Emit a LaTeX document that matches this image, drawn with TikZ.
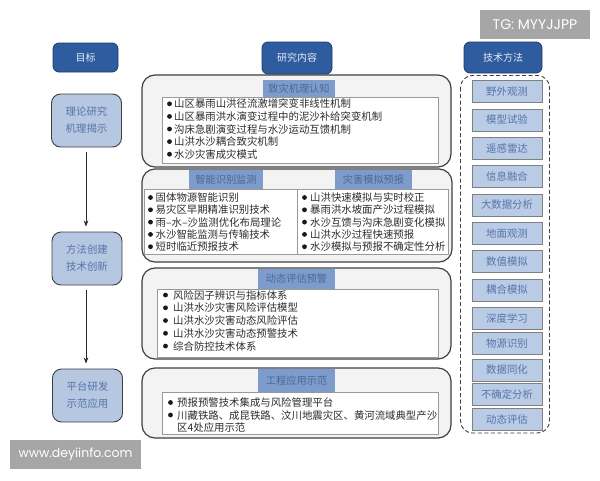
\documentclass[tikz,border=0pt]{standalone}
\usepackage{fontspec}
\setmainfont{Noto Sans CJK SC}
\newfontfamily\wmfont{Poppins}
\usetikzlibrary{arrows.meta}
\definecolor{hdr}{HTML}{2F5C9E}
\definecolor{hdrline}{HTML}{1E3C6E}
\definecolor{hdrtext}{HTML}{E4EBF6}
\definecolor{lite}{HTML}{B5C7E1}
\definecolor{litetext}{HTML}{5675A8}
\definecolor{titlebar}{HTML}{7D9CCB}
\definecolor{titletext}{HTML}{4C6796}
\definecolor{itemfill}{HTML}{B9CBE5}
\definecolor{bigfill}{HTML}{F3F3F3}
\definecolor{bodytext}{HTML}{2C2C2C}
\definecolor{wmgray}{HTML}{A6A6A6}
\definecolor{edgegray}{HTML}{404040}
\tikzset{
  hdrbox/.style={draw=hdrline, line width=0.8pt, fill=hdr, rounded corners=6pt, text=hdrtext,
    font=\fontsize{10}{12}\selectfont, inner sep=0pt},
  goalbox/.style={draw=edgegray, line width=0.9pt, fill=lite, rounded corners=9pt, text=litetext,
    font=\fontsize{10.4}{17}\selectfont, align=center, inner sep=0pt, minimum width=70pt, minimum height=53pt},
  bigbox/.style={draw=edgegray, line width=1.2pt, fill=bigfill, rounded corners=13pt, inner sep=0pt},
  whitebox/.style={draw=gray!80, line width=0.6pt, fill=white, inner sep=0pt},
  titlebox/.style={fill=titlebar, text=titletext, font=\fontsize{10.2}{12}\selectfont, inner sep=0pt},
  itembox/.style={draw=gray, line width=0.8pt, fill=itemfill, text=litetext,
    font=\fontsize{10.4}{12}\selectfont, inner sep=0pt, minimum width=70pt, minimum height=22pt},
  listtext/.style={text=bodytext, font=\fontsize{10.4}{12}\selectfont, inner sep=0pt},
  arr/.style={draw=black!85, line width=0.8pt, -{Stealth[length=6pt,width=4.5pt]}, shorten <=5pt, shorten >=5pt},
  wmbox/.style={fill=wmgray, text=white, inner sep=0pt, font=\wmfont\fontsize{12}{14}\selectfont}
}
\begin{document}
\begin{tikzpicture}[x=1pt,y=-1pt]
\useasboundingbox (0,0) rectangle (600,480);
\fill[white] (0,0) rectangle (600,480);

% headers
\node[hdrbox, minimum width=65pt, minimum height=29pt] (goal) at (85.5,57.5) {目标};
\node[hdrbox, minimum width=70pt, minimum height=32pt] (content) at (297,58) {研究内容};
\node[hdrbox, minimum width=78pt, minimum height=31pt] (method) at (503,57.5) {技术方法};

% left goal boxes
\node[goalbox] (g1) at (86.5,120.5) {理论研究\\机理揭示};
\node[goalbox] (g2) at (87,258.5) {方法创建\\技术创新};
\node[goalbox] (g3) at (87.5,395.5) {平台研发\\示范应用};
\draw[arr] (g1.south -| 86,0) -- (g2.north -| 86,0);
\draw[arr] (g2.south -| 86,0) -- (g3.north -| 86,0);

% big boxes
\node[bigbox, minimum width=309pt, minimum height=92pt] (b1) at (296.5,121) {};
\node[bigbox, minimum width=310pt, minimum height=93pt] (b2) at (297,215.5) {};
\node[bigbox, minimum width=309pt, minimum height=91pt] (b3) at (296.5,313.5) {};
\node[bigbox, minimum width=309pt, minimum height=70pt] (b4) at (296.5,403) {};

% white inner boxes
\node[whitebox, minimum width=276pt, minimum height=66pt] (w1) at (300,130) {};
\node[whitebox, minimum width=153pt, minimum height=65pt] (w2a) at (220.5,221.5) {};
\node[whitebox, minimum width=151pt, minimum height=65pt] (w2b) at (372.5,221.5) {};
\node[whitebox, minimum width=281pt, minimum height=68pt] (w3) at (297.5,323) {};
\node[whitebox, minimum width=276pt, minimum height=42pt] (w4) at (300,413) {};

% title bars
\node[titlebox, minimum width=72pt, minimum height=17pt] (t1) at (299,88.5) {致灾机理认知};
\node[titlebox, minimum width=74pt, minimum height=19pt] (t2a) at (226,179.5) {智能识别监测};
\node[titlebox, minimum width=77pt, minimum height=19pt] (t2b) at (373.5,179.5) {灾害模拟预报};
\node[titlebox, minimum width=77pt, minimum height=20pt] (t3) at (296.5,279) {动态评估预警};
\node[titlebox, minimum width=77pt, minimum height=23pt] (t4) at (296.5,380.5) {工程应用示范};

% list 1
\foreach \t [count=\i] in {山区暴雨山洪径流激增突变非线性机制,山区暴雨洪水演变过程中的泥沙补给突变机制,沟床急剧演变过程与水沙运动互馈机制,山洪水沙耦合致灾机制,水沙灾害成灾模式}{
  \fill[black!90] (169.5,91.2+12.6*\i) circle (2.4pt);
  \node[listtext, anchor=base west] (l1-\i) at (174,95.2+12.6*\i) {\t};
}
% list 2a
\foreach \t [count=\i] in {固体物源智能识别,易灾区早期精准识别技术,雨–水–沙监测优化布局理论,水沙智能监测与传输技术,短时临近预报技术}{
  \fill[black!90] (150.5,185.2+12.3*\i) circle (2.4pt);
  \node[listtext, anchor=base west] (l2a-\i) at (155.5,189.2+12.3*\i) {\t};
}
% list 2b
\foreach \t [count=\i] in {山洪快速模拟与实时校正,暴雨洪水坡面产沙过程模拟,水沙互馈与沟床急剧变化模拟,山洪水沙过程快速预报,水沙模拟与预报不确定性分析}{
  \fill[black!90] (304.5,185.2+12.3*\i) circle (2.4pt);
  \node[listtext, anchor=base west] (l2b-\i) at (310,189.2+12.3*\i) {\t};
}
% list 3
\foreach \t [count=\i] in {风险因子辨识与指标体系,山洪水沙灾害风险评估模型,山洪水沙灾害动态风险评估,山洪水沙灾害动态预警技术,综合防控技术体系}{
  \fill[black!90] (165.5,282.3+12.75*\i) circle (2.4pt);
  \node[listtext, anchor=base west] (l3-\i) at (173,286.3+12.75*\i) {\t};
}
% list 4
\fill[black!90] (170.5,402.5) circle (2.4pt);
\node[listtext, anchor=base west] (l4-1) at (177,406.5) {预报预警技术集成与风险管理平台};
\fill[black!90] (170.5,415) circle (2.4pt);
\node[listtext, anchor=base west] (l4-2) at (177,419) {川藏铁路、成昆铁路、汶川地震灾区、黄河流域典型产沙};
\node[listtext, anchor=base west] (l4-3) at (177,431.5) {区4处应用示范};

% technique column
\draw[edgegray, line width=0.9pt, dashed, dash pattern=on 4pt off 2.5pt, rounded corners=12pt] (460.5,75.5) rectangle (549.5,433);
\foreach \t/\y [count=\i] in {野外观测/91.5,模型试验/120,遥感雷达/148.5,信息融合/176.5,大数据分析/205,地面观测/233.5,数值模拟/261.5,耦合模拟/290,深度学习/318,物源识别/343.5,数据同化/370,不确定分析/394.5,动态评估/419.5}{
  \node[itembox] (m-\i) at (507,\y) {\t};
}

% watermarks
\node[wmbox, minimum width=110pt, minimum height=29pt, font=\wmfont\fontsize{14}{16}\selectfont] (wm1) at (535,24.5) {TG: MYYJJPP};
\node[wmbox, minimum width=131pt, minimum height=29pt, font=\wmfont\fontsize{12.5}{14}\selectfont] (wm2) at (75.5,454.5) {www.deyiinfo.com};
\end{tikzpicture}
\end{document}
